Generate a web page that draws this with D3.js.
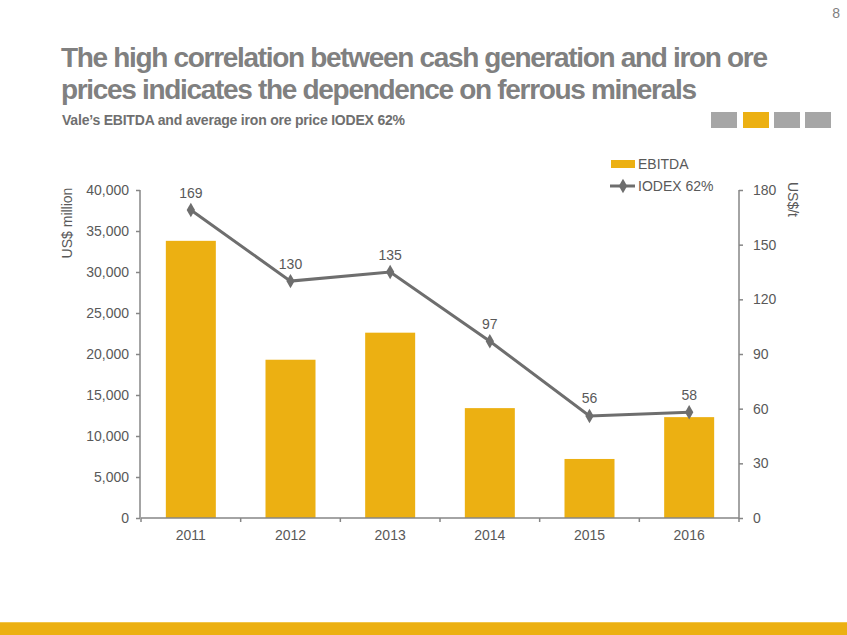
<!DOCTYPE html>
<html><head><meta charset="utf-8">
<script src="https://cdn.jsdelivr.net/npm/d3@7"></script>
<style>
body{margin:0;background:#fff;}
svg{display:block;font-family:"Liberation Sans",Arial,sans-serif;}
</style></head>
<body>
<script>
const years = ["2011","2012","2013","2014","2015","2016"];
const ebitda = [33800, 19300, 22600, 13400, 7200, 12300];
const iodex = [169, 130, 135, 97, 56, 58];
const leftTicks = [0,5000,10000,15000,20000,25000,30000,35000,40000];
const rightTicks = [0,30,60,90,120,150,180];
const titleLines = ["The high correlation between cash generation and iron ore","prices indicates the dependence on ferrous minerals"];
const subtitle = "Vale’s EBITDA and average iron ore price IODEX 62%";

const W=847,H=635;
const svg=d3.select("body").append("svg").attr("width",W).attr("height",H);
const yellow="#ECB012", gray="#6E6E6E", txt="#595959", axisC="#868686";

function fitText(sel, target){
  const n=sel.text().length;
  const nat=sel.node().getComputedTextLength();
  sel.attr("letter-spacing",((target-nat)/(n-1)).toFixed(3)+"px");
}

// page number
svg.append("text").attr("x",840).attr("y",18).attr("text-anchor","end").attr("font-size",14).attr("fill","#7f7f7f").text("8");

// title
const tl=[[707,67],[636,99]];
titleLines.forEach((t,i)=>{
  const s=svg.append("text").attr("x",61).attr("y",tl[i][1]).attr("font-size",28).attr("font-weight","bold")
   .attr("fill","#808080").text(t);
  fitText(s,tl[i][0]);
});
const st=svg.append("text").attr("x",62).attr("y",125).attr("font-size",14).attr("font-weight","bold")
  .attr("fill","#6f6f6f").text(subtitle);
fitText(st,343);

// decorative squares
[[711,"#A6A6A6"],[743,yellow],[774,"#A6A6A6"],[805,"#A6A6A6"]].forEach(([x,c])=>{
  svg.append("rect").attr("x",x).attr("y",112).attr("width",26).attr("height",16).attr("fill",c);
});

// footer
svg.append("rect").attr("x",0).attr("y",622).attr("width",W).attr("height",13).attr("fill",yellow);
svg.append("rect").attr("x",0).attr("y",622).attr("width",W).attr("height",1).attr("fill","#F2C54A");

// scales
const xb=d3.scaleBand().domain(years).range([141,739]);
const yL=d3.scaleLinear().domain([0,40000]).range([518,190]);
const yR=d3.scaleLinear().domain([0,180]).range([518,190]);

// bars
svg.selectAll("rect.bar").data(ebitda).join("rect").attr("class","bar")
  .attr("x",(d,i)=>xb(years[i])+xb.bandwidth()/2-25).attr("width",50)
  .attr("y",d=>yL(d)).attr("height",d=>518-yL(d)).attr("fill",yellow);

// axes
const fmt=d3.format(",");
const gL=svg.append("g").attr("transform","translate(140,0)")
  .call(d3.axisLeft(yL).tickValues(leftTicks).tickFormat(fmt).tickSize(4).tickPadding(7));
const gR=svg.append("g").attr("transform","translate(739,0)")
  .call(d3.axisRight(yR).tickValues(rightTicks).tickSize(4).tickPadding(10));
const gB=svg.append("g").attr("transform","translate(0,518)")
  .call(d3.axisBottom(xb).tickSize(0).tickPadding(12));
const bounds=years.map(y=>xb(y)).concat([739]);
gB.selectAll("line.bt").data(bounds).join("line").attr("class","bt")
  .attr("x1",d=>d).attr("x2",d=>d).attr("y1",0).attr("y2",4).attr("stroke",axisC).attr("stroke-width",1.5);
[gL,gR,gB].forEach(g=>{
  g.select(".domain").attr("stroke",axisC).attr("stroke-width",1.5);
  g.selectAll(".tick line").attr("stroke",axisC).attr("stroke-width",1.5);
  g.selectAll("text").attr("font-size",14).attr("fill",txt).attr("font-family","Liberation Sans,Arial,sans-serif");
});
gL.select(".domain").attr("d","M-0,518V190");
gR.select(".domain").attr("d","M0,518V190");
gB.select(".domain").attr("d","M141,0H739");

// axis titles
svg.append("text").attr("transform","translate(72,223) rotate(-90)").attr("text-anchor","middle")
  .attr("font-size",14).attr("fill",txt).text("US$ million");
svg.append("text").attr("transform","translate(788,182) rotate(90)").attr("text-anchor","start")
  .attr("font-size",14).attr("fill",txt).text("US$/t");

// line
const cx=i=>xb(years[i])+xb.bandwidth()/2;
const line=d3.line().x((d,i)=>cx(i)).y(d=>yR(d));
svg.append("path").datum(iodex).attr("d",line).attr("fill","none").attr("stroke",gray).attr("stroke-width",3);
const diamond=d3.symbol().type(d3.symbolDiamond).size(60);
svg.selectAll("path.mk").data(iodex).join("path").attr("class","mk").attr("d",diamond)
  .attr("transform",(d,i)=>`translate(${cx(i)},${yR(d)})`).attr("fill",gray);
svg.selectAll("text.lbl").data(iodex).join("text").attr("class","lbl")
  .attr("x",(d,i)=>cx(i)).attr("y",d=>yR(d)-12.5).attr("text-anchor","middle")
  .attr("font-size",14).attr("fill",txt).text(d=>d);

// legend
svg.append("rect").attr("x",611).attr("y",160).attr("width",24).attr("height",8).attr("fill",yellow);
svg.append("text").attr("x",638).attr("y",169).attr("font-size",14).attr("fill",txt).text("EBITDA");
svg.append("line").attr("x1",610).attr("x2",635).attr("y1",186).attr("y2",186).attr("stroke",gray).attr("stroke-width",3);
svg.append("path").attr("d",diamond).attr("transform","translate(623,186)").attr("fill",gray);
svg.append("text").attr("x",638).attr("y",191).attr("font-size",14).attr("fill",txt).text("IODEX 62%");
</script>
</body></html>
